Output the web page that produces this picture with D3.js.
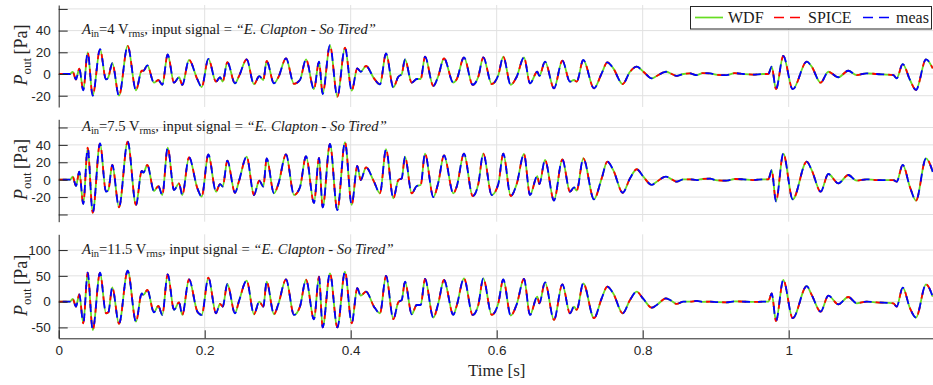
<!DOCTYPE html>
<html><head><meta charset="utf-8">
<script src="https://cdn.jsdelivr.net/npm/d3@7"></script>
<style>
html,body{margin:0;padding:0;background:#fff;}
svg{display:block;}
</style></head>
<body>
<svg id="chart" width="933" height="385"></svg>
<script>
// ---------- DATA ----------
const seriesNames = ["WDF", "SPICE", "meas"];
const seriesColors = ["#66dd22", "#ff0000", "#0000ff"];
const amplitudes = ["4", "7.5", "11.5"];
const xTicks = [0, 0.2, 0.4, 0.6, 0.8, 1];
const yTicks1 = [-20, 0, 20, 40, 60];
const yTicks2 = [-40, -20, 0, 20, 40, 60];
const yTicks3 = [-50, 0, 50, 100];
const yLabels1 = [-20, 0, 20, 40];
const yLabels2 = [-20, 0, 20, 40];
const yLabels3 = [-50, 0, 50, 100];

const timeS = [0,0.0155,0.0192,0.0237,0.0282,0.0337,0.0397,0.0466,0.0566,0.0648,0.068,0.0734,0.0826,0.0945,0.1059,0.1137,0.116,0.1214,0.1305,0.1365,0.1419,0.1493,0.158,0.1648,0.1693,0.1785,0.190,0.1959,0.205,0.2155,0.221,0.2247,0.231,0.2415,0.247,0.2575,0.2675,0.2748,0.2803,0.2849,0.2949,0.3009,0.3114,0.3223,0.3305,0.3388,0.3497,0.3566,0.3616,0.3716,0.3817,0.3922,0.4014,0.409,0.4137,0.421,0.4319,0.4401,0.4484,0.4584,0.4652,0.4699,0.4744,0.4836,0.4904,0.4959,0.5018,0.5132,0.52,0.5278,0.5406,0.5452,0.5552,0.5671,0.5748,0.5816,0.5932,0.6022,0.609,0.6192,0.6274,0.6374,0.6456,0.6556,0.6584,0.6662,0.6785,0.6899,0.7004,0.7059,0.7096,0.7186,0.7333,0.7438,0.7515,0.7597,0.7726,0.7826,0.7918,0.8009,0.8123,0.8192,0.8319,0.8397,0.8466,0.8557,0.8648,0.874,0.882,0.8922,0.902,0.915,0.926,0.9378,0.951,0.9652,0.9721,0.9767,0.9826,0.9926,1.0055,1.0247,1.0315,1.0438,1.0543,1.068,1.0816,1.0932,1.1068,1.1205,1.1434,1.1479,1.1562,1.1662,1.1744,1.1881,1.1973];

const pout1 = [0,0,2,-5,5,-15,20,-20,23,-5,-3,10,-20,26,-15,3,3,8,-8,-5.5,-10,18,-8,-3,-10,13,-5,-12,14,-7,-3,-7,11,-8.6,-2,13.5,-9.5,-2,-5.5,12,-8.6,-3,14.4,-9,-5.5,13.5,-14,11.4,-18.4,26.7,-20.9,24.3,-15.4,5.2,2.1,7.4,-4,-9.5,19,-12.3,-2.5,0,13.5,-8,-4.6,-4.6,16,-11,-1.8,14.4,-8,-4.9,15.4,-10,-2.5,15.4,-9.2,-1,16,-10,-2.5,15.4,-8.6,2.1,-1.8,11.4,-13.2,12.3,-7,-5.5,-7,12.9,-13.2,0.6,10.8,5.2,-9.2,2.1,6.8,2.1,-4,-1.8,2.1,0,-1.8,0,0.5,-1,0.8,0.6,-0.8,-1,0.8,0,-0.5,0,0,6.8,-14,16.6,-14,11.4,6.8,-8,2.1,-3,3,-1,0.6,0,-1,-4,9.2,-5.5,-14.7,13.5,5.2];

const pout2 = [0,0,3.4,-7.3,9.2,-28,36.8,-38,41.8,-13.8,-11.9,16.9,-31.8,43.7,-29,10,8,16.9,-13,-7.3,-17.6,36.8,-11.9,-4.2,-17.6,25.7,-10,-19.5,29,-13.8,-5,-8,21.8,-15,-1.5,26.4,-17.6,-1.1,-8,24.5,-15.7,-5,29,-17.6,-8.8,27,-26.8,25,-31.8,41,-35,43,-29,15.7,-0.4,14.2,-2.3,-15.7,35,-21.5,-0.4,1.5,26.4,-15.7,-7.3,-6.1,30,-20,-3.4,28,-15.7,-8,30,-18.8,-5,30,-17.6,-5,30,-18.8,-5,29.5,-17.6,4.2,-5,22.6,-24,23.4,-13.8,-8.8,-12.6,24.5,-22.6,1.5,20.7,11,-15,1.5,12,3.4,-6,-2.3,3.4,0.4,-2.3,0.4,0.4,-0.4,0.8,1.1,-0.8,-1.1,0.8,0.4,-0.4,0.4,0.4,11,-25,30,-22.6,20.7,11,-13.8,6.5,-4.2,5.4,-1.1,0.4,-0.4,-0.4,-2.3,17,-8.8,-24,24.5,9];

const pout3 = [0,0,5.2,-9.7,14.2,-42,56,-55,56,-22.6,-20.7,27.8,-43,60,-38.8,16,13,22.6,-20.7,-8.4,-25.8,53,-16,-1.3,-25.8,43.3,-19.4,-25.8,46.5,-22.6,-4.5,-9.7,34.2,-22.6,1.3,40.7,-24.5,0,-9.7,38.8,-24.5,-4.5,43.3,-25.8,-9.7,42.5,-34.5,48.4,-50,55,-50,58,-42,26,11.6,19.4,-9.7,-22.6,50,-34,-1.3,3.2,38.8,-24.5,-6.5,-6.5,44,-31,-3.2,42,-25.8,-7.8,45,-25.8,-6.5,45,-25.8,-3.2,43,-27,-5.2,44,-25.8,9.7,-3.2,37.5,-35.5,33.6,-22.6,-9.7,-16,35.5,-32,6.5,29,16,-22.6,3.2,19.4,5.2,-11.6,-6.5,6.5,1.3,-4.5,0,0,1.3,-0.5,0,-1,-1.3,0.6,0,-0.6,0,0,16,-37.5,42,-32,30,13,-19.4,11.6,-5.2,9,-3.2,0,-1.3,-3.2,-9.7,27,-13,-31,33.6,9.7];

// the three series (WDF / SPICE / meas) coincide at this resolution
const panelSeries = [
  [pout1, pout1, pout1],
  [pout2, pout2, pout2],
  [pout3, pout3, pout3]
];

// ---------- LAYOUT ----------
const svg = d3.select("#chart");
const x0 = 58.7, x1 = 934.7;
const x = d3.scaleLinear().domain([0, 1.2]).range([x0, x1]);

const panels = [
  {dom: [-30.4, 63.6], rng: [107, 5], ticks: yTicks1, labels: yLabels1, textY: 34},
  {dom: [-48.3, 69.4], rng: [221.7, 119.3], ticks: yTicks2, labels: yLabels2, textY: 131},
  {dom: [-71.1, 130.6], rng: [338.3, 234.3], ticks: yTicks3, labels: yLabels3, textY: 254}
];

const axisColor = "#262626";
const gridColor = "#e1e1e1";
const sansFont = "'Liberation Sans', Arial, sans-serif";
const serifFont = "'Liberation Serif', 'Times New Roman', serif";

const defs = svg.append("defs");

panels.forEach((p, i) => {
  const y = d3.scaleLinear().domain(p.dom).range(p.rng);
  const g = svg.append("g");

  // grid
  g.selectAll(".hg").data(p.ticks).join("line")
    .attr("x1", x0).attr("x2", x1)
    .attr("y1", d => y(d)).attr("y2", d => y(d))
    .attr("stroke", gridColor).attr("stroke-width", 1);
  g.selectAll(".vg").data(xTicks.filter(t => t > 0)).join("line")
    .attr("x1", d => x(d)).attr("x2", d => x(d))
    .attr("y1", p.rng[1]).attr("y2", p.rng[0])
    .attr("stroke", gridColor).attr("stroke-width", 1);

  // lines
  const clipId = "clip" + i;
  defs.append("clipPath").attr("id", clipId)
    .append("rect").attr("x", x0).attr("y", p.rng[1])
    .attr("width", x1 - x0).attr("height", p.rng[0] - p.rng[1]);
  const line = d3.line()
    .x((d, k) => x(timeS[k]))
    .y(d => y(d))
    .curve(d3.curveMonotoneX);
  const lg = g.append("g").attr("clip-path", `url(#${clipId})`);
  const dashes = [null, "8,8", "8,8"];
  const offsets = [0, 0, 12];
  panelSeries[i].forEach((vals, s) => {
    lg.append("path").datum(vals)
      .attr("d", line)
      .attr("fill", "none")
      .attr("stroke", seriesColors[s])
      .attr("stroke-width", 1.8)
      .attr("stroke-linejoin", "round")
      .attr("stroke-dasharray", dashes[s])
      .attr("stroke-dashoffset", offsets[s]);
  });

  // y axis
  const yAxis = d3.axisLeft(y).tickValues(p.ticks)
    .tickSizeInner(-9).tickSizeOuter(0).tickPadding(8)
    .tickFormat(d => p.labels.includes(d) ? String(d) : "");
  const ya = g.append("g").attr("transform", `translate(${x0},0)`).call(yAxis);
  ya.select(".domain").attr("stroke", axisColor).attr("stroke-width", 1);
  ya.selectAll(".tick line").attr("stroke", axisColor);
  ya.selectAll(".tick text").attr("fill", axisColor)
    .style("font-family", sansFont).style("font-size", "13.5px");

  // y label
  const mid = (p.rng[0] + p.rng[1]) / 2 - 1;
  const yl = g.append("text")
    .attr("transform", `translate(27,${mid}) rotate(-90)`)
    .attr("text-anchor", "middle")
    .style("font-family", serifFont).style("font-size", "18px").attr("fill", axisColor);
  yl.append("tspan").style("font-style", "italic").text("P");
  yl.append("tspan").attr("dy", 3.5).style("font-size", "13px").text("out");
  yl.append("tspan").attr("dy", -3.5).text("\u2009[Pa]");

  // annotation
  const an = g.append("text").attr("x", 82).attr("y", p.textY)
    .style("font-family", serifFont).style("font-size", "14.6px").attr("fill", "#1a1a1a");
  an.append("tspan").style("font-style", "italic").text("A");
  an.append("tspan").attr("dy", 2.5).style("font-size", "10.5px").text("in");
  an.append("tspan").attr("dy", -2.5).text("=" + amplitudes[i] + " V");
  an.append("tspan").attr("dy", 2.5).style("font-size", "10.5px").text("rms");
  an.append("tspan").attr("dy", -2.5).text(", input signal = ");
  an.append("tspan").style("font-style", "italic").text("\u201CE. Clapton - So Tired\u201D");

  // x axis only on last panel
  if (i === 2) {
    const xAxis = d3.axisBottom(x).tickValues(xTicks)
      .tickSizeInner(-8).tickSizeOuter(0).tickPadding(7)
      .tickFormat(d => String(d));
    const xa = g.append("g").attr("transform", `translate(0,${p.rng[0]})`).call(xAxis);
    xa.select(".domain").attr("stroke", axisColor);
    xa.selectAll(".tick line").attr("stroke", axisColor);
    xa.selectAll(".tick text").attr("fill", axisColor)
      .style("font-family", sansFont).style("font-size", "13.5px");
    g.append("text").attr("x", x(0.6)).attr("y", 376)
      .attr("text-anchor", "middle")
      .style("font-family", serifFont).style("font-size", "17px").attr("fill", axisColor)
      .text("Time [s]");
  }
});

// ---------- LEGEND ----------
const leg = svg.append("g");
leg.append("rect").attr("x", 690.5).attr("y", 6.5).attr("width", 241).attr("height", 22.5)
  .attr("fill", "#fff").attr("stroke", axisColor).attr("stroke-width", 1);
const legX = [695, 774, 863];
const legTextX = [728, 808, 896];
seriesNames.forEach((name, s) => {
  leg.append("line").attr("x1", legX[s]).attr("x2", legX[s] + 28)
    .attr("y1", 17.5).attr("y2", 17.5)
    .attr("stroke", seriesColors[s]).attr("stroke-width", 1.7)
    .attr("stroke-dasharray", s === 0 ? null : "10,6");
  leg.append("text").attr("x", legTextX[s]).attr("y", 23)
    .style("font-family", serifFont).style("font-size", "16px").attr("fill", "#1a1a1a")
    .text(name);
});
</script>
</body></html>
